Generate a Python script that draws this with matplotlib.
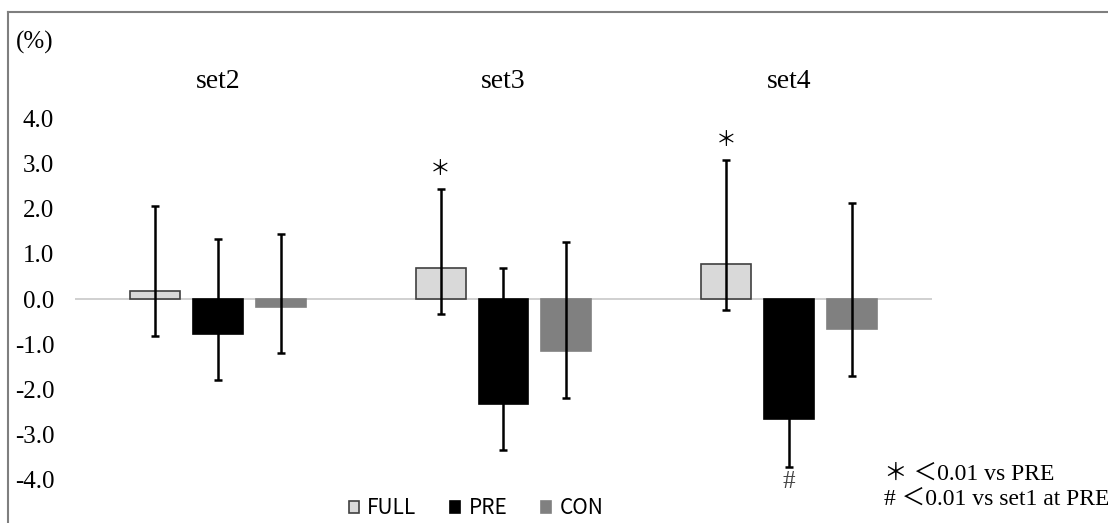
import numpy as np
import matplotlib.pyplot as plt
from matplotlib.lines import Line2D

groups = ["set2", "set3", "set4"]
series = ["FULL", "PRE", "CON"]
colors = ["#d9d9d9", "#000000", "#808080"]
edges = ["#404040", "#000000", "#808080"]

# bar heights (%) per series, one value per group
values = {
    "FULL": [0.18, 0.69, 0.78],
    "PRE": [-0.77, -2.32, -2.66],
    "CON": [-0.18, -1.15, -0.66],
}
# error bar ends (lower, upper)
err_low = {
    "FULL": [-0.82, -0.33, -0.24],
    "PRE": [-1.78, -3.34, -3.72],
    "CON": [-1.20, -2.19, -1.70],
}
err_high = {
    "FULL": [2.06, 2.43, 3.08],
    "PRE": [1.32, 0.69, -1.66],
    "CON": [1.43, 1.26, 2.12],
}
stars = [(1, 0), (2, 0)]      # (group, series) marked with ＊
hashes = [(2, 1)]             # marked with #

W, H = 1108, 523
fig = plt.figure(figsize=(W / 100, H / 100), dpi=100)
ax = fig.add_axes([75 / W, (H - 489) / H, 857 / W, 380 / H])

serif = ["Liberation Serif", "Noto Sans CJK JP"]
x = np.arange(len(groups))
step, width = 0.22, 0.175
for i, s in enumerate(series):
    xs = x + (i - 1) * step
    v = np.array(values[s])
    lo = v - np.array(err_low[s])
    hi = np.array(err_high[s]) - v
    ax.bar(xs, v, width, color=colors[i], edgecolor=edges[i], linewidth=1.2,
           label=s, zorder=2)
    ax.errorbar(xs, v, yerr=[lo, hi], fmt="none", ecolor="black",
                elinewidth=1.8, capsize=3, capthick=1.8, zorder=3)

for g, i in stars:
    ax.text(g + (i - 1) * step, err_high[series[i]][g] + 0.2, "＊",
            ha="center", va="bottom", fontsize=15, family=serif)
for g, i in hashes:
    ax.text(g + (i - 1) * step, err_low[series[i]][g] - 0.08, "#",
            ha="center", va="top", fontsize=18, family=serif, color="#444444")

for g, name in enumerate(groups):
    ax.text(g, 4.8, name, ha="center", va="center", fontsize=20,
            family=serif, clip_on=False)

ax.axhline(0, color="#c8c8c8", linewidth=1.2, zorder=1)
ax.set_xlim(-0.5, 2.5)
ax.set_ylim(-4.2, 4.2)
ticks = np.arange(-4, 5, 1.0)
ax.set_yticks(ticks)
ax.set_yticklabels([f"{t:.1f}" for t in ticks], family=serif, fontsize=18)
ax.tick_params(axis="y", length=0, pad=15)
ax.set_xticks([])
for sp in ax.spines.values():
    sp.set_visible(False)

fig.text(16 / W, 1 - 42 / H, "(%)", fontsize=18, family=serif, va="center")

leg = fig.legend(loc="center", bbox_to_anchor=(476 / W, 1 - 508 / H), ncol=3,
                 frameon=False, handlelength=0.5, handleheight=0.5,
                 columnspacing=1.6, handletextpad=0.4,
                 prop={"family": "Noto Sans CJK JP", "size": 15})

fig.text(884 / W, 1 - 474 / H, "＊ ＜0.01 vs PRE", fontsize=17, family=serif,
         va="center")
fig.text(884 / W, 1 - 499 / H, "# ＜0.01 vs set1 at PRE", fontsize=17,
         family=serif, va="center")

# chart-area frame: only the top and left edges show
frame = dict(color="#7f7f7f", linewidth=1.5, transform=fig.transFigure)
fig.add_artist(Line2D([8 / W, 1], [1 - 12 / H, 1 - 12 / H], **frame))
fig.add_artist(Line2D([8 / W, 8 / W], [0, 1 - 12 / H], **frame))

fig.savefig("out.png", dpi=100)
